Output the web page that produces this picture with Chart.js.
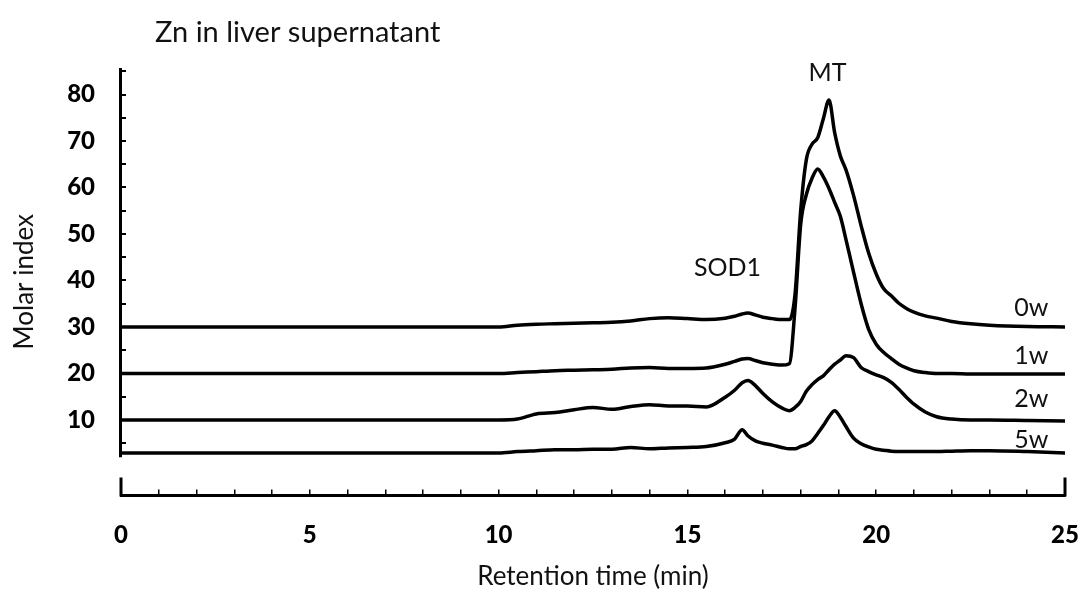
<!DOCTYPE html>
<html>
<head>
<meta charset="utf-8">
<title>Zn in liver supernatant</title>
<script src="https://cdn.jsdelivr.net/npm/chart.js@4.4.1/dist/chart.umd.min.js"></script>
<style>
  html, body { margin: 0; padding: 0; background: #fff; }
  #wrap { width: 1083px; height: 590px; }
</style>
</head>
<body>
<div id="wrap"><canvas id="znChart" width="1083" height="590"></canvas></div>
<script>
// retention time (min), shared by all four traces
const times = [0, 10, 10.5, 11, 11.5, 12, 12.5, 13, 13.5, 14, 14.5, 15, 15.5, 16,
  16.25, 16.45, 16.6, 16.8, 17, 17.25, 17.5, 17.7, 17.85,
  18, 18.15, 18.3, 18.45, 18.6, 18.75, 18.9, 19.05, 19.2,
  19.4, 19.6, 19.8, 20, 20.2, 20.4, 20.6, 20.8, 21,
  21.3, 21.6, 22, 22.5, 23, 24, 25];

// molar index (traces are stacked with offsets, as in the figure)
const zn0w = [30.0, 30.0, 30.4, 30.6, 30.7, 30.8, 30.9, 31.0, 31.3, 31.8, 32.0, 31.8, 31.6, 31.9,
  32.3, 32.8, 33.0, 32.6, 32.1, 31.8, 31.6, 31.6, 37,
  55, 66, 69.3, 70.7, 74.8, 78.8, 71.8, 66.8, 63.8,
  58.3, 51.8, 45.9, 41.4, 38.2, 36.7, 35.1, 34.0, 33.2,
  32.4, 31.9, 31.2, 30.7, 30.4, 30.1, 30.0];
const zn1w = [20.0, 20.0, 20.2, 20.4, 20.6, 20.7, 20.8, 20.9, 21.2, 21.3, 21.1, 21.1, 21.2, 22.0,
  22.6, 23.1, 23.2, 22.8, 22.3, 22.0, 21.8, 22.1, 34,
  52, 58.5, 62, 64, 62.3, 59.8, 56.8, 53.8, 48.8,
  41.8, 35, 29.5, 26.3, 24.5, 23.2, 22.0, 21.2, 20.6,
  20.2, 20.0, 20.0, 19.9, 19.9, 19.9, 19.9];
const zn2w = [10.0, 10.0, 10.2, 11.3, 11.6, 12.2, 12.7, 12.3, 12.9, 13.3, 13.0, 13.0, 12.8, 14.9,
  16.4, 18.0, 18.5, 17.4, 15.7, 13.9, 12.6, 12.0, 12.7,
  14.0, 16.2, 17.6, 18.7, 19.5, 20.8, 22.0, 22.9, 23.8,
  23.4, 21.3, 20.4, 19.7, 19.1, 18.1, 16.6, 14.9, 13.4,
  11.7, 10.7, 10.2, 10.0, 10.0, 9.9, 9.8];
const zn5w = [2.9, 2.9, 3.2, 3.4, 3.6, 3.6, 3.7, 3.7, 4.1, 3.8, 4.0, 4.1, 4.3, 5.1,
  5.9, 7.9, 6.6, 5.5, 5.0, 4.6, 4.1, 3.8, 3.8,
  4.3, 4.7, 5.5, 7.1, 8.8, 10.7, 12.0, 10.6, 8.6,
  6.1, 4.9, 4.2, 3.7, 3.5, 3.3, 3.2, 3.2, 3.2,
  3.2, 3.2, 3.3, 3.4, 3.4, 3.2, 2.9];

const seriesNames = ['0w', '1w', '2w', '5w'];
const seriesValues = [zn0w, zn1w, zn2w, zn5w];

const xTickValues = Array.from({length: 26}, (_, i) => i);
const yTickValues = [5, 10, 15, 20, 25, 30, 35, 40, 45, 50, 55, 60, 65, 70, 75, 80, 85];

// where the text notes sit, in data units
const seriesLabelAt = [[24.56, 34.2], [24.56, 23.8], [24.56, 14.5], [24.56, 5.7]];
const peakNotes = [
  { text: 'SOD1', x: 16.06, y: 42.7 },
  { text: 'MT', x: 18.71, y: 84.6 }
];
const titleAt = { text: 'Zn in liver supernatant', x: 0.9, y: 93.2 };

const FONT = 'Lato, "DejaVu Sans", sans-serif';

const datasets = seriesNames.map((name, i) => ({
  label: name,
  data: times.map((t, j) => ({ x: t, y: seriesValues[i][j] })),
  borderColor: '#000',
  borderWidth: 3.5,
  pointRadius: 0,
  fill: false,
  cubicInterpolationMode: 'monotone'
}));

// y spine that stops above the detached x axis, tall end ticks, and text notes
const figureExtras = {
  id: 'figureExtras',
  afterDraw(chart) {
    const { ctx, chartArea, scales: { x, y } } = chart;
    ctx.save();
    ctx.strokeStyle = '#000';
    ctx.lineWidth = 3;
    ctx.beginPath();
    ctx.moveTo(chartArea.left - 0.5, chartArea.top);
    ctx.lineTo(chartArea.left - 0.5, y.getPixelForValue(2));
    ctx.stroke();

    [0, 25].forEach(v => {
      const px = x.getPixelForValue(v);
      ctx.beginPath();
      ctx.moveTo(px, chartArea.bottom + 1);
      ctx.lineTo(px, chartArea.bottom - 18);
      ctx.stroke();
    });

    ctx.fillStyle = '#111';
    ctx.textBaseline = 'middle';
    ctx.font = '25px ' + FONT;
    ctx.textAlign = 'right';
    seriesNames.forEach((name, i) => {
      const [lx, ly] = seriesLabelAt[i];
      ctx.fillText(name, x.getPixelForValue(lx), y.getPixelForValue(ly));
    });
    ctx.textAlign = 'center';
    peakNotes.forEach(n => {
      ctx.fillText(n.text, x.getPixelForValue(n.x), y.getPixelForValue(n.y));
    });
    ctx.font = '29px ' + FONT;
    ctx.textAlign = 'left';
    ctx.fillText(titleAt.text, x.getPixelForValue(titleAt.x), y.getPixelForValue(titleAt.y));
    ctx.restore();
  }
};

new Chart(document.getElementById('znChart'), {
  type: 'line',
  data: { datasets },
  plugins: [figureExtras],
  options: {
    responsive: false,
    animation: false,
    layout: { padding: { top: 68, right: 18, bottom: 0, left: 0 } },
    plugins: {
      legend: { display: false },
      tooltip: { enabled: false },
      title: { display: false }
    },
    scales: {
      x: {
        type: 'linear',
        min: 0,
        max: 25,
        afterBuildTicks: scale => { scale.ticks = xTickValues.map(v => ({ value: v })); },
        afterFit: scale => {
          scale.height = 94.5;
          scale.paddingLeft = 0;
          scale.paddingRight = 0;
        },
        border: { display: true, color: '#000', width: 3 },
        grid: { drawOnChartArea: false, drawTicks: true, tickLength: -6, color: '#000', lineWidth: 1.5 },
        ticks: {
          autoSkip: false,
          maxRotation: 0,
          padding: 31,
          color: '#000',
          font: { family: FONT, size: 24, weight: '900' },
          callback: v => (v % 5 === 0 ? v : '')
        },
        title: {
          display: true,
          text: 'Retention time (min)',
          color: '#111',
          padding: { top: 0, bottom: -2 },
          font: { family: FONT, size: 26 }
        }
      },
      y: {
        min: -6.24,
        max: 85.7,
        afterBuildTicks: scale => { scale.ticks = yTickValues.map(v => ({ value: v })); },
        afterFit: scale => {
          scale.width = 121;
          scale.paddingTop = 0;
          scale.paddingBottom = 0;
        },
        border: { display: false },
        grid: { drawOnChartArea: false, drawTicks: true, tickLength: -5, color: '#000', lineWidth: 2 },
        ticks: {
          autoSkip: false,
          padding: 31,
          color: '#000',
          font: { family: FONT, size: 24, weight: '900' },
          callback: v => (v % 10 === 0 ? v : '')
        },
        title: {
          display: true,
          text: 'Molar index',
          color: '#111',
          padding: { top: 9, bottom: 0 },
          font: { family: FONT, size: 26 }
        }
      }
    }
  }
});
</script>
</body>
</html>
